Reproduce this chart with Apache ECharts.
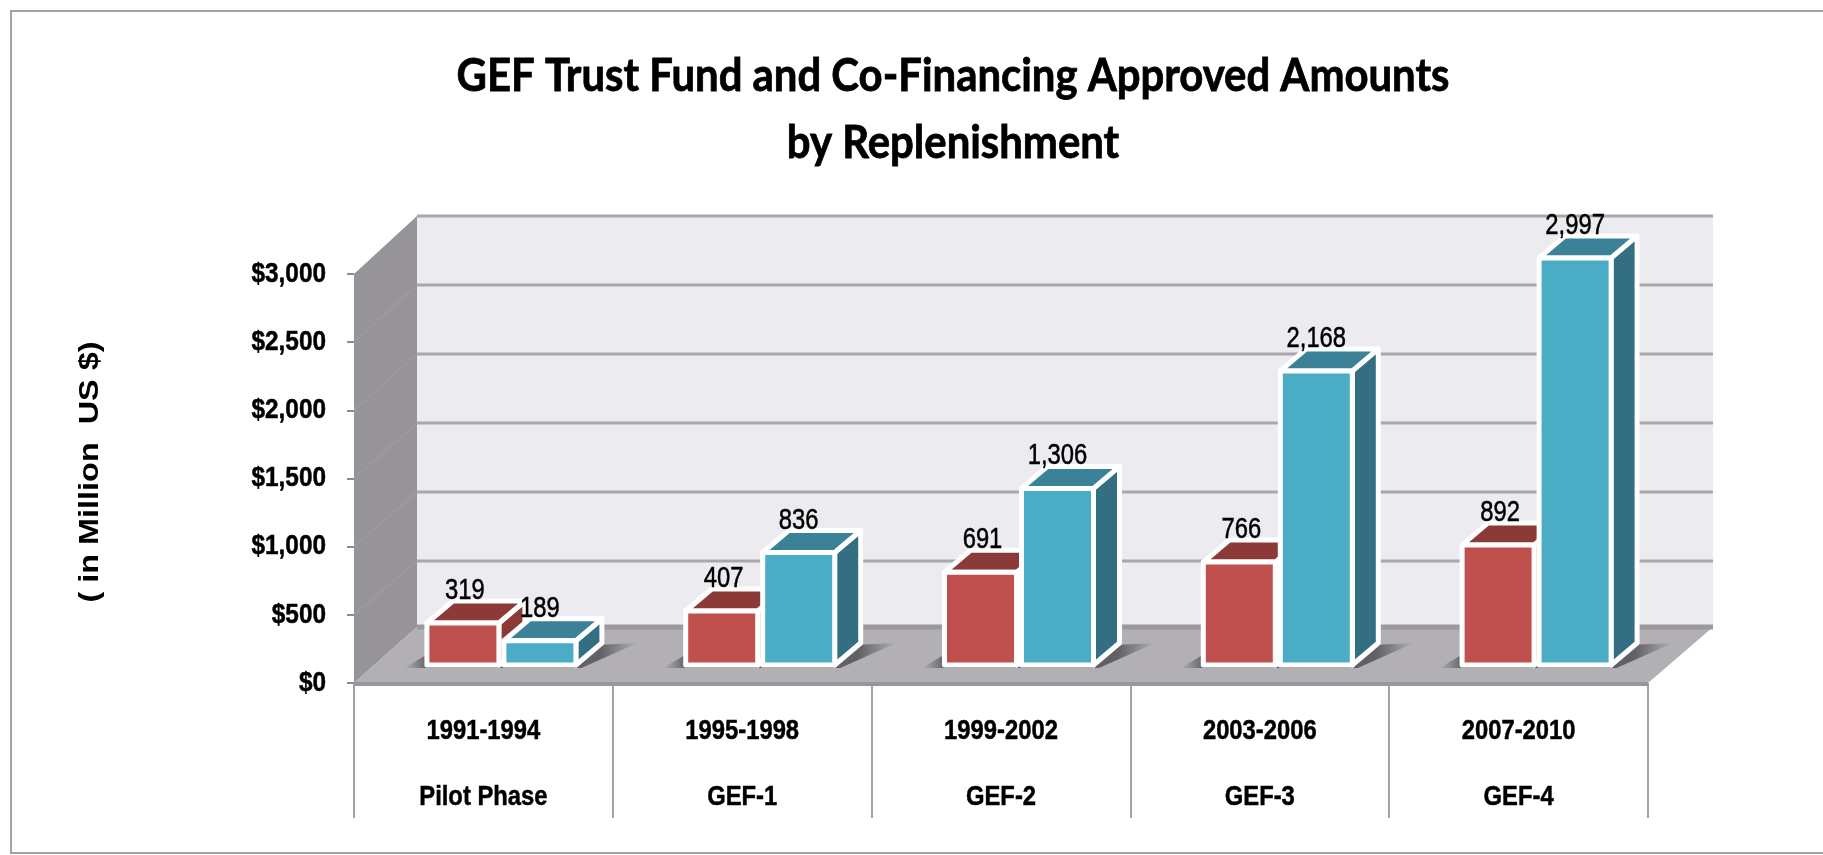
<!DOCTYPE html>
<html>
<head>
<meta charset="utf-8">
<style>
	html, body { margin: 0; padding: 0; background: #fff; }
	#chart { width: 1823px; height: 855px; filter: blur(0.6px); }
</style>
<script src="https://cdn.jsdelivr.net/npm/echarts@6/dist/echarts.min.js"></script>
</head>
<body>
<div id="chart"></div>
<script>
	const titleLines = ['GEF Trust Fund and Co-Financing Approved Amounts', 'by Replenishment']
	const periods = ['1991-1994', '1995-1998', '1999-2002', '2003-2006', '2007-2010']
	const phases = ['Pilot Phase', 'GEF-1', 'GEF-2', 'GEF-3', 'GEF-4']
	const trustFund = [319, 407, 691, 766, 892]
	const coFinancing = [189, 836, 1306, 2168, 2997]
	const yTicks = [0, 500, 1000, 1500, 2000, 2500, 3000]

	const sans = '"Liberation Sans", sans-serif'
	const roomDx = 63
	const roomRightDx = 65
	const floorDy = -56
	const wallDy = -53
	const wallScale = 1.0123
	const barW = 72
	const barDx = 26
	const barDy = -22
	const barLift = 18

	const poly = (points, fill, extra) => ({
		type: 'polygon',
		shape: { points },
		style: Object.assign({ fill }, extra || {})
	})

	// squeezed text, the original uses a narrow face that is not installed
	const squeezed = (text, x, y, size, scale, align, weight) => ({
		type: 'text',
		x,
		y,
		scaleX: scale,
		style: {
			text,
			x: 0,
			y: 0,
			align,
			verticalAlign: 'middle',
			fill: '#000',
			stroke: '#000',
			lineWidth: 0.5,
			font: (weight || 'bold') + ' ' + size + 'px ' + sans
		}
	})

	// walls and floor, taken from the front plane of the grid
	function renderRoom(params, api) {
		const g = params.coordSys
		const left = g.x
		const right = g.x + g.width
		const y0 = api.coord([0, 0])[1]
		const backL = left + roomDx
		const backR = right + roomRightDx
		const backFloor = y0 + floorDy
		const wallY = v => y0 + wallDy + (api.coord([0, v])[1] - y0) * wallScale
		const backTop = wallY(3000)
		const yTop = api.coord([0, 3000])[1]
		const kids = [
			poly([[backL, backTop], [backR, backTop], [backR, backFloor], [backL, backFloor]], '#ecebf0'),
			poly([[left, yTop], [backL, backTop], [backL, backFloor], [left, y0]], '#969498')
		]
		yTicks.forEach(v => {
			const y = api.coord([0, v])[1]
			if (v > 0) {
				kids.push({
					type: 'line',
					shape: { x1: backL, y1: wallY(v), x2: backR, y2: wallY(v) },
					style: { stroke: '#a9a7ac', lineWidth: 3 }
				})
			}
			if (v > 0 && v < 3000) {
				kids.push({
					type: 'line',
					shape: { x1: left, y1: y, x2: backL, y2: wallY(v) },
					style: { stroke: '#a3a1a5', lineWidth: 1 }
				})
			}
		})
		kids.push(poly([[left, y0], [backL, backFloor], [backR, backFloor], [right, y0]], '#b2b0b5'))
		kids.push({
			type: 'line',
			shape: { x1: backL, y1: backFloor, x2: backR, y2: backFloor },
			style: { stroke: '#9b999d', lineWidth: 5 }
		})
		kids.push({
			type: 'line',
			shape: { x1: left, y1: y0 + 1, x2: right, y2: y0 + 1 },
			style: { stroke: '#99979b', lineWidth: 4 }
		})
		return { type: 'group', children: kids }
	}

	// floor shadow under each pair of bars
	function renderShadow(params, api) {
		const c = api.coord([api.value(0), 0])
		const mid = c[0] + 18
		const base = c[1] - barLift
		const shade = {
			type: 'linear', x: 0, y: 0, x2: 1, y2: 0,
			colorStops: [
				{ offset: 0, color: 'rgba(70,70,72,0)' },
				{ offset: 0.1, color: 'rgba(70,70,72,0.75)' },
				{ offset: 0.84, color: 'rgba(70,70,72,0.75)' },
				{ offset: 1, color: 'rgba(70,70,72,0)' }
			]
		}
		return poly([
			[mid - barW - 25, base + 3], [mid - barW, base - 12],
			[mid + barW + barDx + 38, base - 22], [mid + barW + 8, base + 3]
		], shade)
	}

	function bar3d(shift, labelShift, front, side, top) {
		return function (params, api) {
			const c = api.coord([api.value(0), 0])
			const t = api.coord([api.value(0), api.value(1)])
			const L = c[0] + 18 + shift
			const R = L + barW
			const B = c[1] - barLift
			const T = t[1] - barLift + 1.5
			const edge = { stroke: '#fff', lineWidth: 5, lineJoin: 'round' }
			const label = squeezed(api.value(1).toLocaleString('en-US'), (L + R) / 2 + labelShift, T - 32, 29, 0.82, 'center', 'normal')
			label.z2 = 10
			return {
				type: 'group',
				children: [
					poly([[R, T], [R + barDx, T + barDy], [R + barDx, B + barDy], [R, B]], side, edge),
					poly([[L, T], [L + barDx, T + barDy], [R + barDx, T + barDy], [R, T]], top, edge),
					poly([[L, T], [R, T], [R, B], [L, B]], front, edge),
					label
				]
			}
		}
	}

	function renderYLabel(params, api) {
		const v = api.value(1)
		const y = api.coord([0, v])[1]
		return squeezed('$' + v.toLocaleString('en-US'), params.coordSys.x - 28, y, 28, 0.87, 'right')
	}

	function renderXLabel(params, api) {
		const i = api.value(0)
		const c = api.coord([i, 0])
		return {
			type: 'group',
			children: [
				squeezed(periods[i], c[0], c[1] + 48, 28, 0.85, 'center'),
				squeezed(phases[i], c[0], c[1] + 114, 28, 0.85, 'center')
			]
		}
	}

	const points = arr => arr.map((v, i) => [i, v])

	const option = {
		animation: false,
		backgroundColor: '#fff',
		graphic: [{
			type: 'rect',
			silent: true,
			z: -1,
			shape: { x: 11, y: 11, width: 1840, height: 842 },
			style: { fill: 'none', stroke: '#a3a3a3', lineWidth: 2 }
		}, {
			type: 'text',
			x: 953,
			y: 76,
			scaleX: 0.91,
			style: {
				text: titleLines[0],
				align: 'center',
				verticalAlign: 'middle',
				fill: '#000',
				stroke: '#000',
				lineWidth: 0.8,
				font: 'bold 46px Lato'
			}
		}, {
			type: 'text',
			x: 953,
			y: 143,
			scaleX: 0.91,
			style: {
				text: titleLines[1],
				align: 'center',
				verticalAlign: 'middle',
				fill: '#000',
				stroke: '#000',
				lineWidth: 0.8,
				font: 'bold 46px Lato'
			}
		}, {
			type: 'text',
			rotation: Math.PI / 2,
			x: 91,
			y: 472,
			scaleX: 1.2,
			style: {
				text: '( in Million  US $)',
				align: 'center',
				verticalAlign: 'middle',
				fill: '#000',
				font: 'bold 27px ' + sans
			}
		}],
		grid: { left: 354, top: 274, width: 1294, height: 409 },
		xAxis: {
			type: 'category',
			data: periods,
			axisLine: { show: false },
			axisTick: { show: true, length: 135, lineStyle: { color: '#a3a3a3', width: 2 } },
			axisLabel: { show: false }
		},
		yAxis: {
			type: 'value',
			min: 0,
			max: 3000,
			interval: 500,
			splitLine: { show: false },
			axisLine: { show: false },
			axisTick: { show: true, length: 7, lineStyle: { color: '#8c8c8c', width: 2 } },
			axisLabel: { show: false }
		},
		series: [
			{ type: 'custom', name: 'room', silent: true, data: [[0, 0]], renderItem: renderRoom, z: 1 },
			{ type: 'custom', name: 'shadow', silent: true, data: points(trustFund), renderItem: renderShadow, z: 2 },
			{ type: 'custom', name: 'GEF Trust Fund', data: points(trustFund), z: 3,
				renderItem: bar3d(-barW - 2.5, 2, '#c0504d', '#8c3a38', '#8c3a38') },
			{ type: 'custom', name: 'Co-Financing', data: points(coFinancing), z: 4,
				renderItem: bar3d(2.5, 0, '#4bacc6', '#336e82', '#3b8298') },
			{ type: 'custom', name: 'y labels', silent: true, clip: false, data: yTicks.map(v => [0, v]), renderItem: renderYLabel, z: 5 },
			{ type: 'custom', name: 'x labels', silent: true, clip: false, data: periods.map((p, i) => [i, 0]), renderItem: renderXLabel, z: 5 }
		]
	}

	const chart = echarts.init(document.getElementById('chart'))
	chart.setOption(option)
</script>
</body>
</html>
